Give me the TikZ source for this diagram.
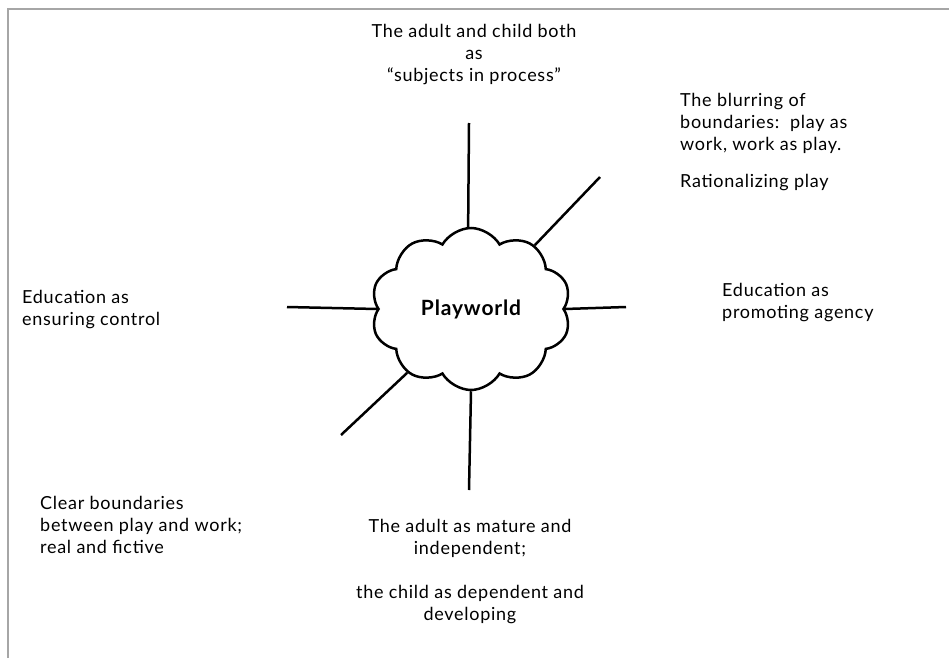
\documentclass[tikz,border=0pt]{standalone}
\usepackage{fontspec}
\setmainfont[LetterSpace=4]{Lato}
\usetikzlibrary{shapes.symbols}
\begin{document}
\begin{tikzpicture}[x=1pt, y=-1pt,
    spoke/.style={line width=2.5pt},
    label/.style={inner sep=0pt, font=\fontsize{18}{22}\selectfont},
    world/.style={draw, cloud, cloud puffs=10, cloud puff arc=120, aspect=1.25,
      line width=2.5pt, minimum width=200pt, minimum height=162pt,
      font=\fontsize{21}{24}\selectfont\bfseries}]
  \useasboundingbox (0,0) rectangle (949,658);
  \draw[gray!70, line width=1.5pt] (8,658) -- (8,9) -- (949,9);

  \node[world] (pw) at (471,309) {Playworld};

  \coordinate (n) at (469,123);
  \coordinate (ne) at (600,177);
  \coordinate (e) at (626,307);
  \coordinate (w) at (287,307);
  \coordinate (sw) at (341,435);
  \coordinate (s) at (469,490);

  \draw[spoke] (n) -- (pw.92);
  \draw[spoke] (ne) -- (pw.45);
  \draw[spoke] (e) -- (pw.0);
  \draw[spoke] (w) -- (pw.180);
  \draw[spoke] (sw) -- (pw.225);
  \draw[spoke] (s) -- (pw.270);

  \node[label, anchor=north, align=center] (both) at (474,24)
    {The adult and child both\\ as\\ ``subjects in process''};
  \node[label, anchor=north west, align=left] (blur) at (680,93)
    {The blurring of\\ boundaries:\ \ play as\\ work, work as play.\\[15pt] Rationalizing play};
  \node[label, anchor=north west, align=left] (control) at (22,290)
    {Education as\\ ensuring control};
  \node[label, anchor=north west, align=left] (agency) at (722,283)
    {Education as\\ promoting agency};
  \node[label, anchor=north west, align=left] (clear) at (40,496)
    {Clear boundaries\\ between play and work;\\ real and fictive};
  \node[label, anchor=north, align=center] (mature) at (470,519)
    {The adult as mature and\\ independent;\\[22pt] the child as dependent and\\ developing};
\end{tikzpicture}
\end{document}
